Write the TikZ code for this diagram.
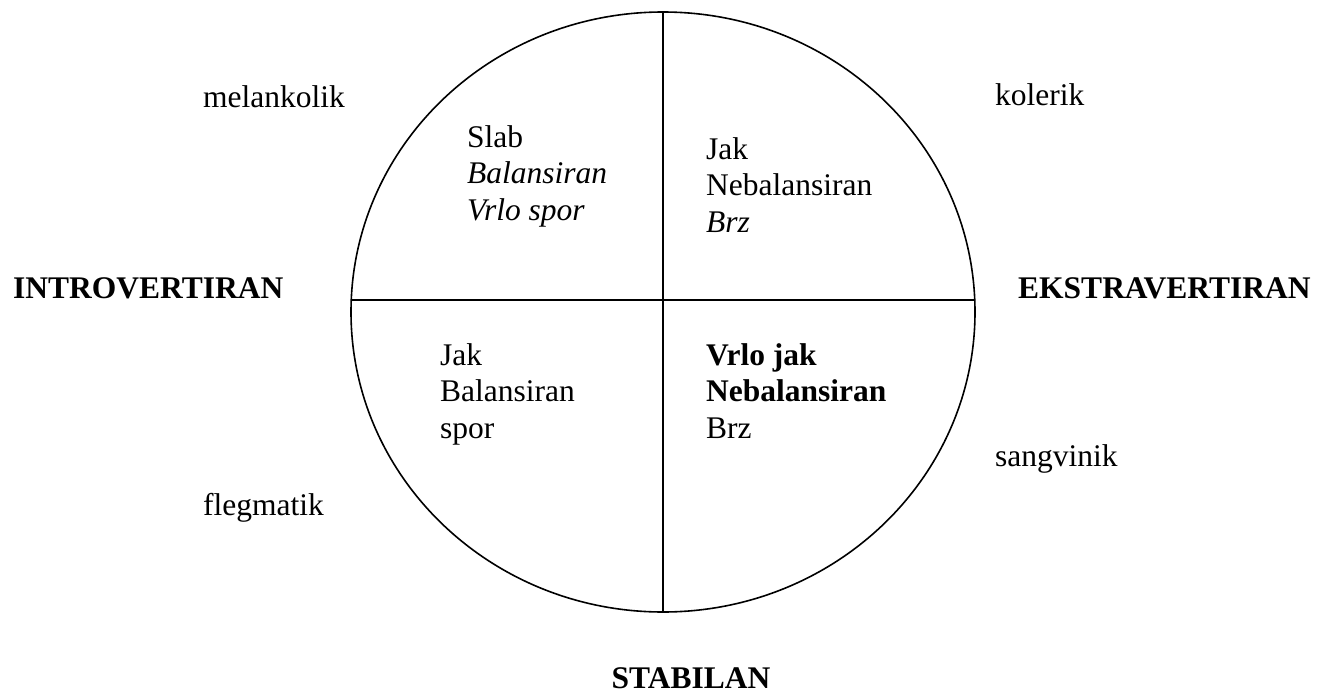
\documentclass[tikz,border=0pt]{standalone}
\usepackage{fontspec}
\setmainfont{Liberation Serif}
\begin{document}
\begin{tikzpicture}[x=1pt,y=-1pt,
  lbl/.style={anchor=base west,inner sep=0pt,font=\fontsize{31.5}{36.5}\selectfont,align=left},
  blbl/.style={lbl,font=\fontsize{31.5}{36.5}\selectfont\bfseries},
  ln/.style={line width=1.6pt,black}]
\useasboundingbox (0,0) rectangle (1331,693);
\draw[ln] (663,312) ellipse [x radius=312, y radius=300];
\coordinate (top) at (663,12);
\coordinate (bot) at (663,612);
\coordinate (lft) at (351.2,300);
\coordinate (rgt) at (974.8,300);
\draw[ln] (top) -- (bot);
\draw[ln] (lft) -- (rgt);
\node[lbl] (mel) at (203,107) {melankolik};
\node[lbl] (kol) at (995,106) {kolerik};
\node[blbl] (intro) at (13,298) {INTROVERTIRAN};
\node[blbl] (ekstra) at (1018,298) {EKSTRAVERTIRAN};
\node[lbl] (fleg) at (203,515) {flegmatik};
\node[lbl] (sang) at (995,466) {sangvinik};
\node[blbl,anchor=base,text depth=0pt] (stab) at (691,688) {STABILAN};
% multi-line nodes: base anchor is the last line's baseline
\node[lbl] (tl) at (467,220) {Slab\\\textit{Balansiran}\\\textit{Vrlo spor}};
\node[lbl] (tr) at (706,232) {Jak\\Nebalansiran\\\textit{Brz}};
\node[lbl] (bl) at (440,438) {Jak\\Balansiran\\spor};
\node[lbl] (br) at (706,438) {\textbf{Vrlo jak}\\\textbf{Nebalansiran}\\Brz};
\end{tikzpicture}
\end{document}
